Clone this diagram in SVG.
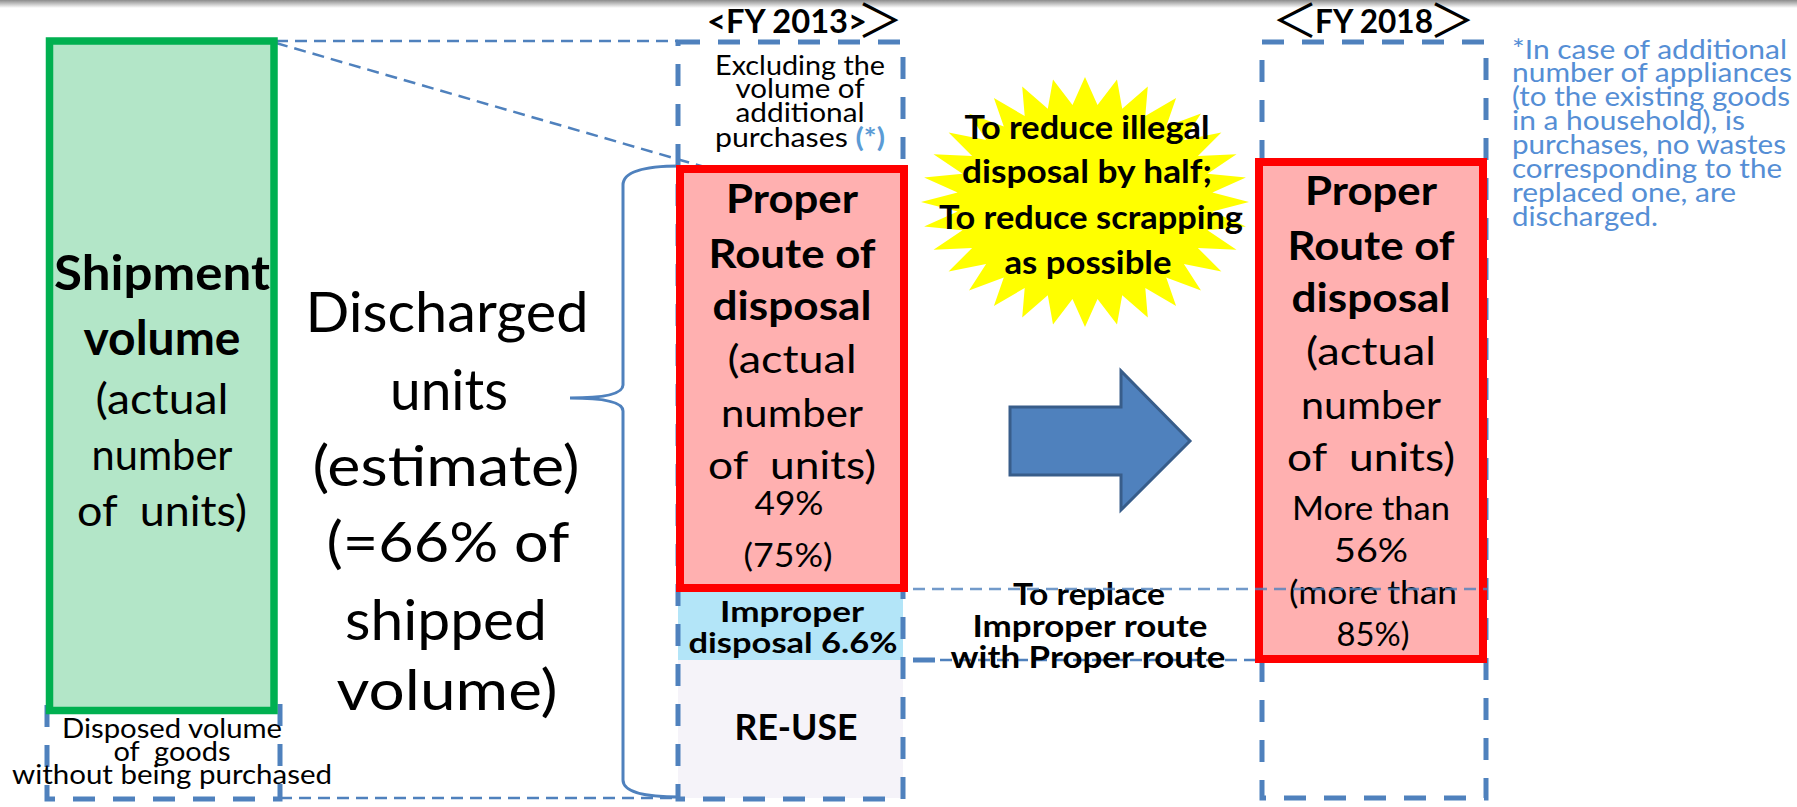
<svg xmlns="http://www.w3.org/2000/svg" width="1797" height="807" viewBox="0 0 1797 807">
<defs>
<linearGradient id="shadow" x1="0" y1="0" x2="0" y2="1"><stop offset="0" stop-color="#8c8c8c"/><stop offset="1" stop-color="#ffffff"/></linearGradient>
</defs>
<style>
text { font-family: Lato, "Liberation Sans", sans-serif; fill:#000; }
.m { text-anchor: middle; }
.b { font-weight: bold; }
.thick { fill:none; stroke:#4F81BD; stroke-width:5; stroke-dasharray:22 18; }
.thin { fill:none; stroke:#4F81BD; stroke-width:2.5; stroke-dasharray:12 7; }
.note { fill:#558ED5; font-size:27.5px; }
.red { fill:#FFB0B0; stroke:#FF0000; stroke-width:8; }
.cjk { font-family: "Noto Sans CJK JP", sans-serif; }
</style>
<rect x="0" y="0" width="1797" height="8" fill="url(#shadow)"/>

<g id="connectors">
  <line class="thin" x1="276" y1="41" x2="678" y2="41"/>
  <line class="thin" x1="276" y1="43" x2="708" y2="168"/>
  <line class="thin" x1="280" y1="798" x2="680" y2="798"/>
  <line class="thin" x1="940" y1="660" x2="1257" y2="660"/>
  <line class="thick" x1="913" y1="660" x2="940" y2="660"/>
  <path d="M680,166 Q623,166 623,185 L623,385 Q623,398 570,398 Q623,398 623,411 L623,780 Q623,797 680,797" fill="none" stroke="#4F81BD" stroke-width="3"/>
</g>

<g id="shipment">
  <path class="thick" d="M47,705 L47,799 L280,799 L280,703"/>
  <rect x="49.5" y="41" width="224.5" height="669.5" fill="#B3E6C8" stroke="#00B050" stroke-width="7.5"/>
  <text class="m b" x="162" y="290" font-size="47" textLength="216" lengthAdjust="spacingAndGlyphs">Shipment</text>
  <text class="m b" x="162" y="355" font-size="47" textLength="157" lengthAdjust="spacingAndGlyphs">volume</text>
  <text class="m" x="162" y="414" font-size="42" textLength="133" lengthAdjust="spacingAndGlyphs">(actual</text>
  <text class="m" x="162" y="470" font-size="42" textLength="141" lengthAdjust="spacingAndGlyphs">number</text>
  <text class="m" x="162" y="526" font-size="42" textLength="170" lengthAdjust="spacingAndGlyphs" xml:space="preserve">of  units)</text>
  <text class="m" x="172" y="738" font-size="26" textLength="220" lengthAdjust="spacingAndGlyphs">Disposed volume</text>
  <text class="m" x="172" y="761" font-size="26" textLength="117" lengthAdjust="spacingAndGlyphs" xml:space="preserve">of  goods</text>
  <text class="m" x="172" y="784" font-size="26" textLength="320" lengthAdjust="spacingAndGlyphs">without being purchased</text>
</g>

<g id="discharged">
  <text class="m" x="447" y="332" font-size="57" textLength="283" lengthAdjust="spacingAndGlyphs">Discharged</text>
  <text class="m" x="449" y="410" font-size="57" textLength="118" lengthAdjust="spacingAndGlyphs">units</text>
  <text class="m" x="446" y="486" font-size="57" textLength="267" lengthAdjust="spacingAndGlyphs">(estimate)</text>
  <text class="m" x="448" y="562" font-size="57" textLength="243" lengthAdjust="spacingAndGlyphs">(=66% of</text>
  <text class="m" x="446" y="640" font-size="57" textLength="202" lengthAdjust="spacingAndGlyphs">shipped</text>
  <text class="m" x="447" y="710" font-size="57" textLength="221" lengthAdjust="spacingAndGlyphs">volume)</text>
</g>

<g id="fy2013">
  <text class="b" x="707" y="33" font-size="33" textLength="160" lengthAdjust="spacingAndGlyphs">&lt;FY 2013&gt;</text>
  <text class="cjk" x="857" y="37" font-size="46">＞</text>
  <rect x="678" y="592" width="225" height="68" fill="#B3E5F8"/>
  <rect x="678" y="660" width="225" height="138" fill="#F5F3F9"/>
  <rect class="thick" x="678" y="42" width="225" height="757"/>
  <text class="m" x="800" y="75" font-size="27" textLength="170" lengthAdjust="spacingAndGlyphs">Excluding the</text>
  <text class="m" x="800" y="98" font-size="27" textLength="129" lengthAdjust="spacingAndGlyphs">volume of</text>
  <text class="m" x="800" y="122" font-size="27" textLength="129" lengthAdjust="spacingAndGlyphs">additional</text>
  <text class="m" x="800" y="147" font-size="27" textLength="170" lengthAdjust="spacingAndGlyphs">purchases <tspan fill="#5B9BD5" font-weight="bold">(*)</tspan></text>
</g>

<g id="proper2013">
  <rect class="red" x="680" y="169" width="224" height="419"/>
  <text class="m b" x="792" y="213" font-size="40" textLength="132" lengthAdjust="spacingAndGlyphs">Proper</text>
  <text class="m b" x="792" y="268" font-size="40" textLength="167" lengthAdjust="spacingAndGlyphs">Route of</text>
  <text class="m b" x="792" y="320" font-size="40" textLength="159" lengthAdjust="spacingAndGlyphs">disposal</text>
  <text class="m" x="792" y="373" font-size="38" textLength="129" lengthAdjust="spacingAndGlyphs">(actual</text>
  <text class="m" x="792" y="427" font-size="38" textLength="142" lengthAdjust="spacingAndGlyphs">number</text>
  <text class="m" x="792" y="479" font-size="38" textLength="168" lengthAdjust="spacingAndGlyphs" xml:space="preserve">of  units)</text>
  <text class="m" x="789" y="515" font-size="33" textLength="69" lengthAdjust="spacingAndGlyphs">49%</text>
  <text class="m" x="788" y="567" font-size="33" textLength="89" lengthAdjust="spacingAndGlyphs">(75%)</text>
</g>

<g id="improper">
  <text class="m b" x="792" y="622" font-size="29" textLength="144" lengthAdjust="spacingAndGlyphs">Improper</text>
  <text class="m b" x="793" y="653" font-size="29" textLength="209" lengthAdjust="spacingAndGlyphs">disposal 6.6%</text>
</g>

<g id="reuse">
  <text class="m b" x="796" y="740" font-size="36" textLength="123" lengthAdjust="spacingAndGlyphs">RE-USE</text>
</g>

<g id="starburst">
  <polygon fill="#FFFF00" points="1085,77 1097.5,105 1117,79.4 1122.2,108.7 1147.8,86.5 1145.3,116 1176.1,98.1 1166.2,126.6 1201,113.6 1183.9,140.1 1221.4,132.6 1197.9,156 1236.5,154.2 1207.5,173.7 1245.9,177.6 1212.4,192.4 1249,202 1212.4,211.6 1245.9,226.4 1207.5,230.3 1236.5,249.8 1197.9,248 1221.4,271.4 1183.9,263.9 1201,290.4 1166.2,277.4 1176.1,305.9 1145.3,288 1147.8,317.5 1122.2,295.3 1117,324.6 1097.5,299 1085,327 1072.5,299 1053,324.6 1047.8,295.3 1022.2,317.5 1024.7,288 993.9,305.9 1003.8,277.4 969,290.4 986.1,263.9 948.6,271.4 972.1,248 933.5,249.8 962.5,230.3 924.1,226.4 957.6,211.6 921,202 957.6,192.4 924.1,177.6 962.5,173.7 933.5,154.2 972.1,156 948.6,132.6 986.1,140.1 969,113.6 1003.8,126.6 993.9,98.1 1024.7,116 1022.2,86.5 1047.8,108.7 1053,79.4 1072.5,105"/>
  <text class="m b" x="1087" y="139" font-size="32" textLength="245" lengthAdjust="spacingAndGlyphs">To reduce illegal</text>
  <text class="m b" x="1087" y="183" font-size="32" textLength="250" lengthAdjust="spacingAndGlyphs">disposal by half;</text>
  <text class="m b" x="1091" y="229" font-size="32" textLength="304" lengthAdjust="spacingAndGlyphs">To reduce scrapping</text>
  <text class="m b" x="1088" y="274" font-size="32" textLength="167" lengthAdjust="spacingAndGlyphs">as possible</text>
</g>

<g id="arrow">
  <polygon points="1010,407 1121,407 1121,371 1190,441 1121,510 1121,475 1010,475" fill="#4F81BD" stroke="#385D8A" stroke-width="3"/>
</g>

<g id="replace">
  <text class="m b" x="1089" y="605" font-size="31" textLength="152" lengthAdjust="spacingAndGlyphs">To replace</text>
  <text class="m b" x="1090" y="637" font-size="31" textLength="235" lengthAdjust="spacingAndGlyphs">Improper route</text>
  <text class="m b" x="1088" y="668" font-size="31" textLength="275" lengthAdjust="spacingAndGlyphs">with Proper route</text>
</g>

<g id="fy2018">
  <text class="cjk" x="1272" y="37" font-size="46">＜</text>
  <text class="b" x="1315" y="33" font-size="33" textLength="118" lengthAdjust="spacingAndGlyphs">FY 2018</text>
  <text class="cjk" x="1429" y="37" font-size="46">＞</text>
  <rect class="thick" x="1262" y="42" width="224" height="756"/>
</g>

<g id="proper2018">
  <rect class="red" x="1259" y="162" width="224" height="497"/>
  <text class="m b" x="1371" y="205" font-size="40" textLength="132" lengthAdjust="spacingAndGlyphs">Proper</text>
  <text class="m b" x="1371" y="260" font-size="40" textLength="167" lengthAdjust="spacingAndGlyphs">Route of</text>
  <text class="m b" x="1371" y="312" font-size="40" textLength="159" lengthAdjust="spacingAndGlyphs">disposal</text>
  <text class="m" x="1371" y="365" font-size="38" textLength="130" lengthAdjust="spacingAndGlyphs">(actual</text>
  <text class="m" x="1371" y="419" font-size="38" textLength="140" lengthAdjust="spacingAndGlyphs">number</text>
  <text class="m" x="1371" y="471" font-size="38" textLength="168" lengthAdjust="spacingAndGlyphs" xml:space="preserve">of  units)</text>
  <text class="m" x="1371" y="520" font-size="33" textLength="158" lengthAdjust="spacingAndGlyphs">More than</text>
  <text class="m" x="1371" y="562" font-size="33" textLength="74" lengthAdjust="spacingAndGlyphs">56%</text>
  <text class="m" x="1373" y="604" font-size="33" textLength="168" lengthAdjust="spacingAndGlyphs">(more than</text>
  <text class="m" x="1373" y="646" font-size="33" textLength="73" lengthAdjust="spacingAndGlyphs">85%)</text>
</g>

<g id="connectors-over">
  <line class="thin" x1="913" y1="589" x2="1487" y2="589" stroke-opacity="0.8"/>
</g>

<g id="footnote">
  <text class="note" x="1512" y="59" textLength="275" lengthAdjust="spacingAndGlyphs">*In case of additional</text>
  <text class="note" x="1512" y="82" textLength="280" lengthAdjust="spacingAndGlyphs">number of appliances</text>
  <text class="note" x="1512" y="106" textLength="278" lengthAdjust="spacingAndGlyphs">(to the existing goods</text>
  <text class="note" x="1512" y="130" textLength="233" lengthAdjust="spacingAndGlyphs">in a household), is</text>
  <text class="note" x="1512" y="154" textLength="274" lengthAdjust="spacingAndGlyphs">purchases, no wastes</text>
  <text class="note" x="1512" y="178" textLength="270" lengthAdjust="spacingAndGlyphs">corresponding to the</text>
  <text class="note" x="1512" y="202" textLength="224" lengthAdjust="spacingAndGlyphs">replaced one, are</text>
  <text class="note" x="1512" y="226" textLength="146" lengthAdjust="spacingAndGlyphs">discharged.</text>
</g>
</svg>
